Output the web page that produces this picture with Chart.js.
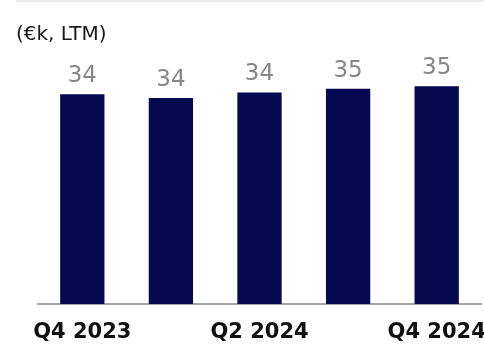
<!DOCTYPE html>
<html>
<head>
<meta charset="utf-8">
<script src="https://cdn.jsdelivr.net/npm/chart.js@4.4.1/dist/chart.umd.min.js"></script>
<style>
    body { margin: 0; background: #fff; }
    #wrap { width: 484px; height: 344px; position: relative; }
</style>
</head>
<body>
<div id="wrap"><canvas id="myChart"></canvas></div>
<script>
"use strict";

// Kvartal längs x-axeln, bara vartannat visas som etikett.
const quarters = ['Q4 2023', 'Q1 2024', 'Q2 2024', 'Q3 2024', 'Q4 2024'];
// Värden i €k (LTM), avlästa från stapelhöjderna.
const values = [34.1, 33.5, 34.4, 35.0, 35.4];
const unitLabel = '(€k, LTM)';

const navy = '#06094f';

// Ritar den tunna linjen överst och värdena ovanför staplarna.
const extras = {
    id: 'extras',
    beforeDraw(chart) {
        const ctx = chart.ctx;
        ctx.save();
        ctx.strokeStyle = '#ececec';
        ctx.lineWidth = 2;
        ctx.beginPath();
        ctx.moveTo(16, 1);
        ctx.lineTo(chart.width, 1);
        ctx.stroke();
        ctx.restore();
    },
    afterDatasetsDraw(chart) {
        const ctx = chart.ctx;
        const meta = chart.getDatasetMeta(0);
        ctx.save();
        ctx.font = 'normal 23px "DejaVu Sans"';
        ctx.fillStyle = '#878787';
        ctx.textAlign = 'center';
        ctx.textBaseline = 'alphabetic';
        meta.data.forEach((bar, i) => {
            ctx.fillText(Math.round(values[i]), bar.x, bar.y - 12);
        });
        ctx.restore();
    }
};

new Chart(document.getElementById('myChart'), {
    type: 'bar',
    data: {
        labels: quarters,
        datasets: [{
            data: values,
            backgroundColor: navy,
            barPercentage: 0.5,
            categoryPercentage: 1
        }]
    },
    options: {
        responsive: true,
        maintainAspectRatio: false,
        animation: false,
        layout: { padding: { top: 23, left: 16, right: 3, bottom: 0 } },
        plugins: {
            legend: { display: false },
            tooltip: { enabled: false },
            title: {
                display: true,
                text: unitLabel,
                align: 'start',
                color: '#1a1a1a',
                font: { family: 'DejaVu Sans', size: 20, weight: 'normal', lineHeight: 1.2 },
                padding: { top: 0, bottom: 11 }
            }
        },
        scales: {
            x: {
                grid: { display: false, drawTicks: false },
                border: { display: true, color: '#a6a6a6', width: 2 },
                ticks: {
                    autoSkip: false,
                    maxRotation: 0,
                    padding: 16,
                    color: '#111',
                    font: { family: 'DejaVu Sans', size: 21, weight: 'bold' },
                    callback: function (value, index) {
                        return index % 2 === 0 ? this.getLabelForValue(value) : '';
                    }
                },
                afterFit(scale) {
                    scale.height = 40;
                    scale.paddingLeft = 0;
                    scale.paddingRight = 0;
                }
            },
            y: {
                min: 0,
                max: 40,
                grid: { display: false, drawTicks: false },
                border: { display: false },
                ticks: { display: false },
                afterFit(scale) { scale.width = 22; }
            }
        }
    },
    plugins: [extras]
});
</script>
</body>
</html>
